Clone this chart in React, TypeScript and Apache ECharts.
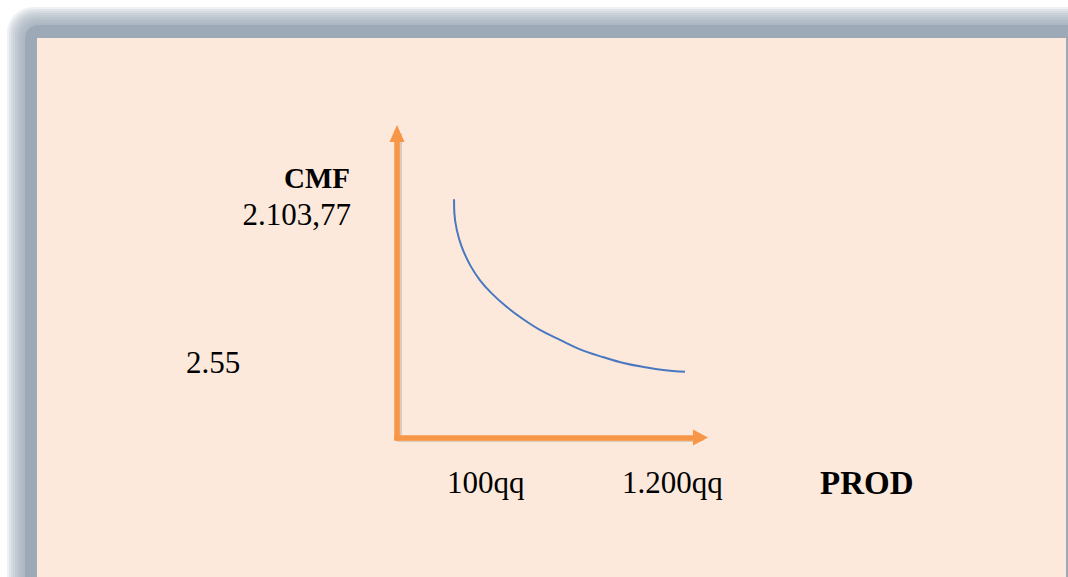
import React, { useEffect, useRef } from "react";
import * as echarts from "echarts";

// Curve (abstract units, 0..100 on each axis)
const prodValues = [
  18.8, 18.9, 19.7, 21.3, 24.1, 27.3, 31.2, 36.1, 41.6, 47.1, 53.7, 60.3, 68.0,
  74.6, 82.3, 87.7, 94.9,
];
const cmfValues = [
  78.4, 73.8, 68.3, 62.8, 56.7, 51.8, 47.4, 43.0, 38.9, 35.4, 32.1, 29.0, 26.4,
  24.5, 23.0, 22.2, 21.6,
];

const yAxisTitle = "CMF";
const yHighLabel = "2.103,77";
const yLowLabel = "2.55";
const xLowLabel = "100qq";
const xHighLabel = "1.200qq";
const xAxisTitle = "PROD";

const ORANGE = "#F79646";
const BLUE = "#4878C0";
const PEACH = "#FCE9DB";
const FRAME = "#9EA9B7";
const SERIF = "'Liberation Serif', 'Times New Roman', serif";

export default function App() {
  const ref = useRef<HTMLDivElement>(null);
  useEffect(() => {
    if (!ref.current) return;
    const chart = echarts.init(ref.current, undefined, { renderer: "svg" });
    const hidden = {
      axisTick: { show: false },
      axisLabel: { show: false },
      splitLine: { show: false },
    };
    const txt = (
      text: string,
      x: number,
      y: number,
      size: number,
      bold: boolean,
      align: string
    ) => ({
      type: "text",
      x,
      y,
      z: 10,
      style: {
        text,
        fill: "#000",
        font: `${bold ? "bold " : ""}${size}px ${SERIF}`,
        align,
        verticalAlign: "middle",
      },
    });
    // soft, blurred frame built from stacked translucent rounded rects
    const frameLayers: any[] = [];
    for (let i = 0; i < 9; i++) {
      const o = 7 + i * 2;
      frameLayers.push({
        type: "rect",
        z: -20,
        shape: { x: o, y: o, width: 1200, height: 700, r: 26 - i * 1.2 },
        style: { fill: FRAME, opacity: 0.16 },
      });
    }
    frameLayers.push({
      type: "rect",
      z: -19,
      shape: { x: 25, y: 25, width: 1200, height: 700, r: 14 },
      style: { fill: FRAME },
    });
    chart.setOption({
      animation: false,
      backgroundColor: "#ffffff",
      graphic: [
        ...frameLayers,
        {
          type: "rect",
          z: -10,
          shape: { x: 37, y: 38, width: 1029, height: 560 },
          style: { fill: PEACH },
        },
        txt(yAxisTitle, 350, 178, 29, true, "right"),
        txt(yHighLabel, 351, 214.5, 31, false, "right"),
        txt(yLowLabel, 186, 362.5, 31, false, "left"),
        txt(xLowLabel, 447, 482.5, 31, false, "left"),
        txt(xHighLabel, 622, 482.5, 31, false, "left"),
        txt(xAxisTitle, 820, 482.5, 33, true, "left"),
      ],
      grid: {
        left: 397,
        top: 133.5,
        right: 1068 - 700.5,
        bottom: 577 - 437.5,
        containLabel: false,
      },
      xAxis: [
        {
          type: "value",
          min: 0,
          max: 100,
          z: 3,
          axisLine: {
            show: true,
            onZero: false,
            symbol: ["none", "triangle"],
            symbolSize: [16, 15],
            lineStyle: { color: ORANGE, width: 5.5, cap: "square" },
          },
          ...hidden,
        },
        {
          type: "value",
          position: "bottom",
          offset: 2,
          min: 0,
          max: 100,
          z: 1,
          axisLine: {
            show: true,
            onZero: false,
            lineStyle: { color: "rgba(120,90,60,0.22)", width: 5, cap: "butt" },
          },
          ...hidden,
        },
      ],
      yAxis: [
        {
          type: "value",
          min: 0,
          max: 100,
          z: 3,
          axisLine: {
            show: true,
            onZero: false,
            symbol: ["none", "triangle"],
            symbolSize: [15, 17],
            lineStyle: { color: ORANGE, width: 5.5, cap: "square" },
          },
          ...hidden,
        },
        {
          type: "value",
          position: "left",
          offset: -2,
          min: 0,
          max: 100,
          z: 1,
          axisLine: {
            show: true,
            onZero: false,
            lineStyle: { color: "rgba(120,90,60,0.22)", width: 5, cap: "butt" },
          },
          ...hidden,
        },
      ],
      series: [
        {
          type: "line",
          data: prodValues.map((x, i) => [x, cmfValues[i]]),
          smooth: 0.4,
          showSymbol: false,
          symbol: "none",
          lineStyle: { color: BLUE, width: 2 },
          z: 5,
        },
      ],
    });
    return () => chart.dispose();
  }, []);
  return (
    <div
      ref={ref}
      style={{ position: "fixed", left: 0, top: 0, width: 1068, height: 577 }}
    />
  );
}
